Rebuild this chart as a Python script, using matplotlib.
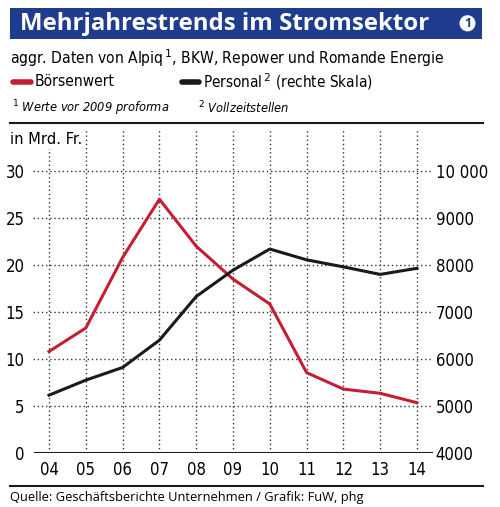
import matplotlib
matplotlib.use("Agg")
import matplotlib.pyplot as plt
from matplotlib.patches import Rectangle, Circle
from matplotlib.lines import Line2D

years = [2004, 2005, 2006, 2007, 2008, 2009, 2010, 2011, 2012, 2013, 2014]
year_labels = ["04", "05", "06", "07", "08", "09", "10", "11", "12", "13", "14"]
boersenwert = [10.8, 13.3, 20.8, 27.0, 22.0, 18.5, 15.85, 8.55, 6.8, 6.35, 5.35]
personal = [5230, 5550, 5820, 6400, 7330, 7890, 8340, 8110, 7960, 7800, 7930]
left_ticks = [0, 5, 10, 15, 20, 25, 30]
right_ticks = [4000, 5000, 6000, 7000, 8000, 9000, 10000]
right_labels = ["4000", "5000", "6000", "7000", "8000", "9000", "10 000"]

RED = "#c41e33"
BLUE = "#1f3c8e"
COND = dict(family="DejaVu Sans", fontstretch="condensed")

W, H = 500, 507
fig = plt.figure(figsize=(W / 100, H / 100), dpi=100)


def fx(x):
    return x / W


def fy(y):
    return 1 - y / H


# banner
fig.patches.append(Rectangle((fx(10), fy(39)), fx(472), 31 / H, transform=fig.transFigure,
                             facecolor=BLUE, edgecolor="none"))
fig.text(fx(20), fy(24), "Mehrjahrestrends im Stromsektor", color="white",
         fontsize=17.3, fontweight="bold", va="center", ha="left", family="Open Sans")
fig.patches.append(Circle((fx(467.5), fy(23.3)), 8 / W, transform=fig.transFigure,
                          facecolor="white", edgecolor="none"))
fig.text(fx(467.5), fy(23.3), "1", color=BLUE, fontsize=9, fontweight="bold",
         ha="center", va="center", family="Open Sans")

# header texts
fig.text(fx(10), fy(58), "aggr. Daten von Alpiq$^{\\,1}$, BKW, Repower und Romande Energie",
         fontsize=11.2, va="center", **COND)
fig.lines.append(Line2D([fx(13), fx(31)], [fy(82), fy(82)], transform=fig.transFigure,
                        color=RED, lw=4, solid_capstyle="round"))
fig.text(fx(35), fy(82), "Börsenwert", fontsize=11.2, va="center", **COND)
fig.lines.append(Line2D([fx(182), fx(199)], [fy(82), fy(82)], transform=fig.transFigure,
                        color="#1a1a1a", lw=4, solid_capstyle="round"))
fig.text(fx(203), fy(82), "Personal$^{\\,2}$ (rechte Skala)", fontsize=11, va="center", **COND)
fig.text(fx(12), fy(108), "$^{1}$ Werte vor 2009 proforma", fontsize=9.2, va="center",
         style="italic", **COND)
fig.text(fx(198), fy(108), "$^{2}$ Vollzeitstellen", fontsize=9.2, va="center",
         style="italic", **COND)
fig.lines.append(Line2D([fx(10), fx(483)], [fy(123), fy(123)], transform=fig.transFigure,
                        color="#1a1a1a", lw=1.5))

# footer
fig.lines.append(Line2D([fx(10), fx(483)], [fy(486), fy(486)], transform=fig.transFigure,
                        color="#1a1a1a", lw=1.5))
fig.text(fx(10), fy(497), "Quelle: Geschäftsberichte Unternehmen / Grafik: FuW, phg",
         fontsize=9.3, va="center", family="Open Sans")

# axes
ax = fig.add_axes([fx(33), fy(453), fx(433) - fx(33), (453 - 128) / H])
top = (453 - 128) / 9.4
ax.set_ylim(0, top)
ax.set_xlim(2003.565, 2014.435)
ax2 = ax.twinx()
ax2.set_ylim(4000, 4000 + top / 30 * 6000)

for a in (ax, ax2):
    for s in a.spines.values():
        s.set_visible(False)

for yv in left_ticks[1:]:
    ax.axhline(yv, color="#333333", lw=1, ls=(0, (1, 2)), zorder=1)
for xv in years:
    ax.axvline(xv, color="#333333", lw=1, ls=(0, (1, 2)), zorder=1)
ax.axhline(0, xmin=2 / 400, color="#1a1a1a", lw=1.5, zorder=3)

ax.plot(years, boersenwert, color=RED, lw=2.2, zorder=4)
ax2.plot(years, personal, color="#1a1a1a", lw=2.2, zorder=4)

ax.set_yticks(left_ticks)
ax.set_yticklabels([str(t) for t in left_ticks], fontsize=12, **COND)
ax2.set_yticks(right_ticks)
ax2.set_yticklabels(right_labels, fontsize=12, **COND)
ax.set_xticks(years)
ax.set_xticklabels(year_labels, fontsize=12, **COND)
ax.tick_params(axis="y", length=0, pad=6)
ax2.tick_params(axis="y", length=0, pad=2)
ax.tick_params(axis="x", length=0, pad=6)

# unit label sits on a white box, hiding the top of the first gridline
fig.text(fx(10), fy(139), "in Mrd. Fr.", fontsize=11.8, va="center", zorder=10,
         bbox=dict(facecolor="white", edgecolor="none", pad=1.5), **COND)

fig.savefig("out.png", dpi=100)
